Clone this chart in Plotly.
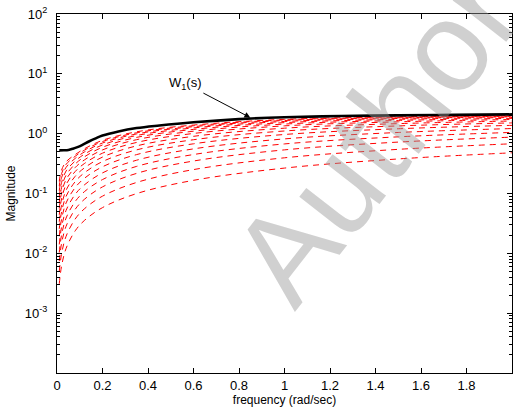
import plotly.graph_objects as go

# ---- data ----
freq = [0.01, 0.02, 0.04, 0.08, 0.12, 0.2, 0.35, 0.6, 1.0, 1.5, 2.0]

w1_freq = [0.01, 0.03, 0.05, 0.07, 0.09, 0.11, 0.14, 0.17, 0.2, 0.27, 0.35, 0.45,
           0.6, 0.8, 1.0, 1.25, 1.5, 1.75, 2.0]
w1_mag = [0.525, 0.528, 0.535, 0.56, 0.595, 0.645, 0.74, 0.835, 0.93, 1.09, 1.24, 1.37,
          1.55, 1.75, 1.88, 1.97, 2.02, 2.06, 2.1]

red_01 = [0.0031, 0.0061, 0.0121, 0.0238, 0.0353, 0.0581, 0.0997, 0.166, 0.266, 0.378, 0.479]
red_02 = [0.0050, 0.0098, 0.0193, 0.0375, 0.0553, 0.0903, 0.153, 0.251, 0.395, 0.547, 0.678]
red_03 = [0.0074, 0.0146, 0.0284, 0.0545, 0.0797, 0.129, 0.217, 0.349, 0.536, 0.723, 0.875]
red_04 = [0.0103, 0.0202, 0.0389, 0.0735, 0.107, 0.171, 0.284, 0.448, 0.674, 0.885, 1.05]
red_05 = [0.0141, 0.0275, 0.0523, 0.0969, 0.139, 0.221, 0.360, 0.557, 0.818, 1.047, 1.218]
red_06 = [0.0193, 0.0372, 0.0696, 0.126, 0.179, 0.280, 0.447, 0.677, 0.969, 1.208, 1.377]
red_07 = [0.0257, 0.0490, 0.0899, 0.158, 0.221, 0.342, 0.536, 0.792, 1.109, 1.348, 1.513]
red_08 = [0.0337, 0.0634, 0.1135, 0.194, 0.267, 0.406, 0.625, 0.903, 1.235, 1.471, 1.626]
red_09 = [0.0440, 0.0812, 0.141, 0.233, 0.316, 0.472, 0.714, 1.008, 1.351, 1.577, 1.724]
red_10 = [0.0563, 0.102, 0.171, 0.272, 0.363, 0.535, 0.794, 1.099, 1.447, 1.664, 1.802]
red_11 = [0.0710, 0.125, 0.203, 0.311, 0.409, 0.593, 0.867, 1.179, 1.529, 1.736, 1.862]
red_12 = [0.0890, 0.152, 0.238, 0.349, 0.453, 0.648, 0.932, 1.248, 1.598, 1.794, 1.912]
red_13 = [0.111, 0.183, 0.274, 0.386, 0.494, 0.698, 0.990, 1.309, 1.658, 1.843, 1.953]
red_14 = [0.134, 0.214, 0.307, 0.419, 0.529, 0.739, 1.036, 1.355, 1.701, 1.880, 1.984]
red_15 = [0.160, 0.246, 0.338, 0.447, 0.558, 0.774, 1.075, 1.393, 1.736, 1.908, 2.008]

red_curves = [red_01, red_02, red_03, red_04, red_05, red_06, red_07, red_08,
              red_09, red_10, red_11, red_12, red_13, red_14, red_15]

x_ticks = [0, 0.2, 0.4, 0.6, 0.8, 1, 1.2, 1.4, 1.6, 1.8, 2]
x_ticktext = ["0", "0.2", "0.4", "0.6", "0.8", "1", "1.2", "1.4", "1.6", "1.8", "2"]
y_ticks = [1e-3, 1e-2, 1e-1, 1e0, 1e1, 1e2]
y_ticktext = ["10<sup>-3</sup>", "10<sup>-2</sup>", "10<sup>-1</sup>",
              "10<sup>0</sup>", "10<sup>1</sup>", "10<sup>2</sup>"]
y_minor = [k * 10.0 ** e for e in range(-4, 2) for k in range(2, 10)]

FONT = "Liberation Sans, Arial, sans-serif"

fig = go.Figure()
for curve in red_curves:
    fig.add_trace(go.Scatter(
        x=freq, y=curve, mode="lines",
        line=dict(color="#ff0000", width=1, dash="6px,5px", shape="spline"),
        hoverinfo="skip", showlegend=False))

fig.add_trace(go.Scatter(
    x=w1_freq, y=w1_mag, mode="lines",
    line=dict(color="black", width=2.6, shape="spline"),
    showlegend=False))

fig.update_layout(
    width=514, height=410,
    margin=dict(l=57, r=2, t=14, b=37, autoexpand=False),
    paper_bgcolor="white", plot_bgcolor="white",
    font=dict(family=FONT, size=12, color="black"),
    showlegend=False,
)

fig.update_xaxes(
    range=[0, 2], tickmode="array", tickvals=x_ticks, ticktext=x_ticktext,
    ticks="inside", ticklen=5, tickwidth=1, tickcolor="black",
    showline=True, linecolor="black", linewidth=1.2, mirror="ticks",
    showgrid=False, zeroline=False, automargin=False,
    tickfont=dict(size=13, family=FONT),
    title=dict(text="frequency (rad/sec)", font=dict(size=12, family=FONT), standoff=2),
)

fig.update_yaxes(
    type="log", range=[-4, 2], tickmode="array", tickvals=y_ticks, ticktext=y_ticktext,
    ticks="inside", ticklen=5, tickwidth=1, tickcolor="black",
    minor=dict(tickmode="array", tickvals=y_minor, ticks="inside", ticklen=3,
               tickcolor="black", showgrid=False),
    showline=True, linecolor="black", linewidth=1.2, mirror="ticks",
    showgrid=False, zeroline=False, automargin=False,
    tickfont=dict(size=13, family=FONT),
    ticklabelstandoff=6,
    title=dict(text="Magnitude", font=dict(size=12, family=FONT), standoff=6),
)

# W1(s) label with arrow
fig.add_annotation(
    x=0.85, y=0.267, xref="x", yref="y",
    text="W<sub>1</sub>(s)", showarrow=True,
    ax=-65, ay=-34, arrowhead=2, arrowsize=1.2, arrowwidth=1, arrowcolor="black",
    font=dict(size=13, family=FONT, color="black"),
)

# watermark
fig.add_annotation(
    x=0.70, y=0.66, xref="paper", yref="paper",
    text="Author", showarrow=False, textangle=-52,
    font=dict(size=128, family=FONT, color="rgba(150,150,150,0.45)"),
    xanchor="center", yanchor="middle",
)

fig.write_html(
    "out.html",
    config={"displayModeBar": False},
    post_script="document.body.style.margin='0';document.body.style.overflow='hidden';",
)
